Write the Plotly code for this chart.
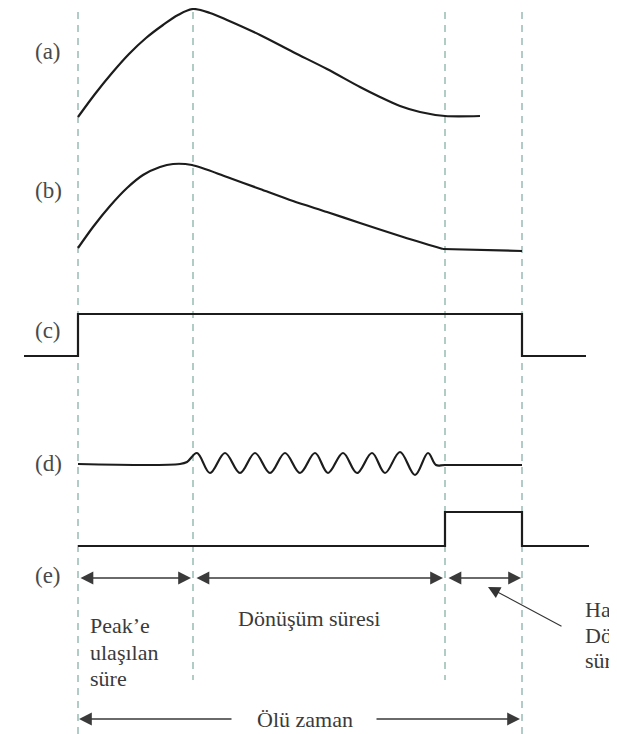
import plotly.graph_objects as go

# ---- data (schematic units: x = time axis, y = drawing level, top-down) ----
event_x = [78, 193, 445, 522]           # start, peak, end of conversion, end
dash_top = [12, 12, 12, 12]
dash_bottom = [734, 680, 680, 734]

a_x = [78, 95, 112, 129, 146, 163, 178, 193, 210, 227, 260, 293, 327, 360, 380, 400, 420, 445, 480]
a_y = [117, 94, 73, 54, 38, 25, 15, 9, 13, 20, 35, 52, 69, 87, 97, 106, 112, 116, 116]

b_x = [78, 93, 110, 127, 143, 160, 173, 192, 227, 260, 293, 327, 360, 400, 443]
b_y = [248, 227, 206, 188, 175, 167, 164, 165, 177, 189, 201, 212, 223, 236, 249]
b_flat_x = [443, 522]
b_flat_y = [249, 251]

c_x = [24, 78, 78, 522, 522, 586]
c_y = [356, 356, 314, 314, 356, 356]

d_x = [78, 180, 187, 197, 210, 225, 240, 255, 270, 285, 300, 315, 328, 343, 357, 372, 385, 400, 415, 428, 436, 445, 522]
d_y = [464, 464, 462, 453, 473, 453, 473, 453, 473, 453, 473, 453, 473, 453, 473, 453, 473, 452, 475, 453, 465, 465, 465]

e_x = [78, 445, 445, 522, 522, 589]
e_y = [546, 546, 512, 512, 546, 546]

row_labels = ["(a)", "(b)", "(c)", "(d)", "(e)"]
row_label_y = [51, 190, 330, 463, 575]

span_start = [79, 195, 447]
span_end = [191, 443, 521]
span_y = 578

peak_lines = ["Peak’e", "ulaşılan", "süre"]
peak_lines_y = [625, 652, 678]
conv_text = "Dönüşüm süresi"
dead_text = "Ölü zaman"
mild_lines = ["Hafif", "Dönüşüm", "süresi"]
mild_lines_y = [609, 635, 660]

# the page body has an 8px margin: the figure starts at page pixel 8
PAGE_W, PAGE_H, OFF = 617, 734, 8
FIG_W, FIG_H = PAGE_W - OFF, PAGE_H - OFF

fig = go.Figure()

# dashed guide lines
for x, y0, y1 in zip(event_x, dash_top, dash_bottom):
    fig.add_trace(go.Scatter(x=[x, x], y=[y0, y1], mode="lines",
                             line=dict(color="#7fa9a0", width=1.2, dash="7px,6px"),
                             hoverinfo="skip"))

sig = dict(color="#1c1c1c", width=2.2)
fig.add_trace(go.Scatter(x=a_x, y=a_y, mode="lines", line=dict(**sig, shape="spline", smoothing=0.9)))
fig.add_trace(go.Scatter(x=b_x, y=b_y, mode="lines", line=dict(**sig, shape="spline", smoothing=0.8)))
fig.add_trace(go.Scatter(x=b_flat_x, y=b_flat_y, mode="lines", line=sig))
fig.add_trace(go.Scatter(x=c_x, y=c_y, mode="lines", line=sig))
fig.add_trace(go.Scatter(x=d_x, y=d_y, mode="lines", line=dict(**sig, shape="spline", smoothing=1.0)))
fig.add_trace(go.Scatter(x=e_x, y=e_y, mode="lines", line=sig))

serif = "Liberation Serif"
ann = []
for t, y in zip(row_labels, row_label_y):
    ann.append(dict(x=48, y=y, text=t, showarrow=False, xanchor="center", yanchor="middle",
                    font=dict(family=serif, size=23, color="#4a4a4a")))

arrow_color = "#3a3a3a"
for x0, x1 in zip(span_start, span_end):
    ann.append(dict(x=x1, y=span_y, ax=x0, ay=span_y, xref="x", yref="y", axref="x", ayref="y",
                    text="", showarrow=True, arrowhead=2, startarrowhead=2, arrowside="end+start",
                    arrowsize=1.6, startarrowsize=1.6, arrowwidth=1.6, arrowcolor=arrow_color,
                    standoff=0, startstandoff=0))

# Ölü zaman arrows
ann.append(dict(x=79, y=719, ax=233, ay=719, xref="x", yref="y", axref="x", ayref="y", text="",
                showarrow=True, arrowhead=2, arrowsize=1.6, arrowwidth=1.6, arrowcolor=arrow_color, standoff=0))
ann.append(dict(x=520, y=719, ax=375, ay=719, xref="x", yref="y", axref="x", ayref="y", text="",
                showarrow=True, arrowhead=2, arrowsize=1.6, arrowwidth=1.6, arrowcolor=arrow_color, standoff=0))
# pointer arrow
ann.append(dict(x=488, y=587, ax=563, ay=627, xref="x", yref="y", axref="x", ayref="y", text="",
                showarrow=True, arrowhead=2, arrowsize=2.2, arrowwidth=1.1, arrowcolor="#333", standoff=0))

tfont = dict(family=serif, size=22, color="#3a3a3a")
for t, y in zip(peak_lines, peak_lines_y):
    ann.append(dict(x=88, y=y, text=t, showarrow=False, xanchor="left", yanchor="middle", font=tfont))
ann.append(dict(x=236, y=618, text=conv_text, showarrow=False, xanchor="left", yanchor="middle", font=tfont))
ann.append(dict(x=305, y=719, text=dead_text, showarrow=False, xanchor="center", yanchor="middle", font=tfont))
for t, y in zip(mild_lines, mild_lines_y):
    ann.append(dict(x=583, y=y, text=t, showarrow=False, xanchor="left", yanchor="middle", font=tfont))

fig.update_layout(
    width=FIG_W, height=FIG_H,
    margin=dict(l=0, r=0, t=0, b=0),
    paper_bgcolor="white", plot_bgcolor="white",
    showlegend=False,
    xaxis=dict(range=[OFF, OFF + FIG_W], visible=False, fixedrange=True),
    yaxis=dict(range=[OFF + FIG_H, OFF], visible=False, fixedrange=True),
    annotations=ann,
)

fig.write_html("out.html")
